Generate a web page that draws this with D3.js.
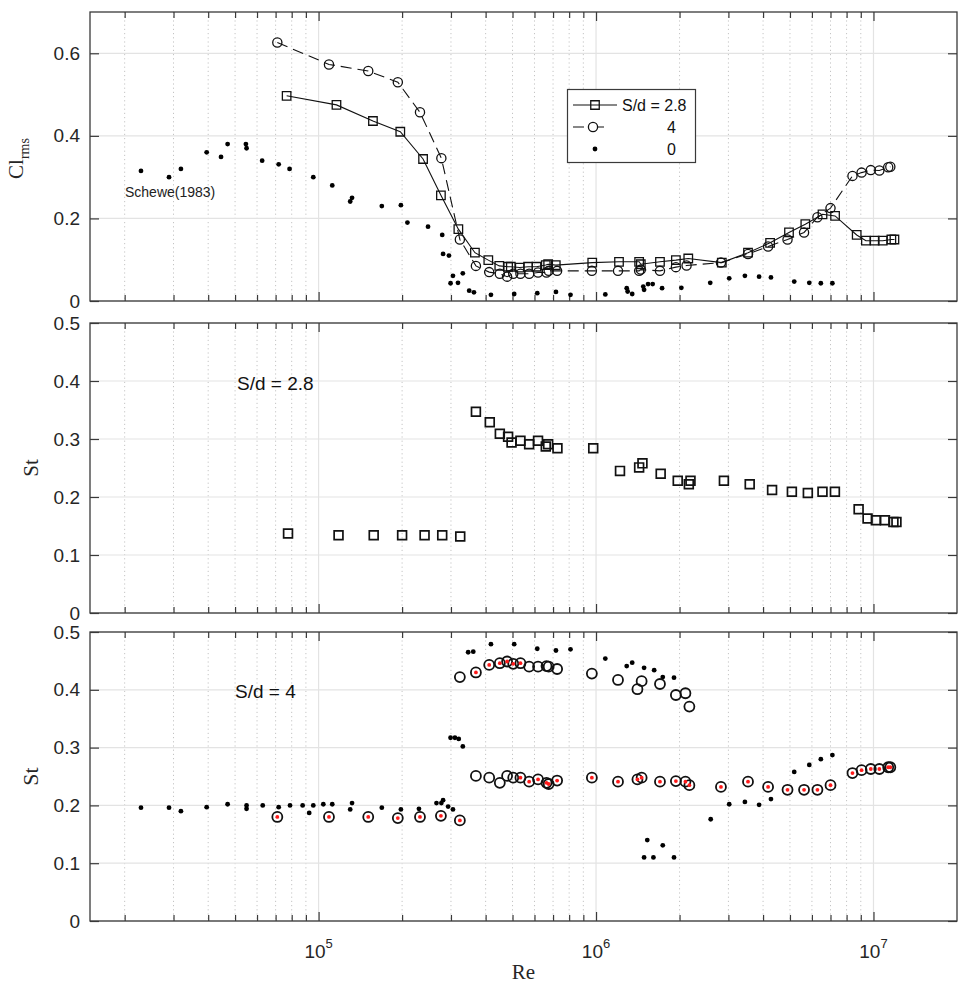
<!DOCTYPE html>
<html>
<head>
<meta charset="utf-8">
<script src="https://cdn.jsdelivr.net/npm/d3@7"></script>
<style>
  html, body { margin: 0; padding: 0; background: #fff; }
  svg { display: block; }
</style>
</head>
<body>
<svg id="chart" width="958" height="987"></svg>
<script>
// ---------------- DATA ----------------
// Top panel: Cl_rms vs Re
const reCl28 = [7.67e4,1.16e5,1.57e5,1.97e5,2.38e5,2.76e5,3.19e5,3.66e5,4.09e5,4.48e5,4.82e5,4.93e5,5.31e5,5.69e5,6.10e5,6.59e5,6.72e5,7.16e5,9.69e5,1.21e6,1.43e6,1.45e6,1.70e6,1.94e6,2.15e6,2.84e6,3.53e6,4.24e6,4.96e6,5.68e6,6.55e6,7.27e6,8.70e6,9.39e6,1.01e7,1.08e7,1.16e7,1.19e7];
const cl28   = [0.497,0.475,0.436,0.410,0.344,0.256,0.174,0.117,0.099,0.085,0.083,0.083,0.081,0.083,0.083,0.087,0.089,0.087,0.093,0.095,0.095,0.089,0.095,0.099,0.103,0.093,0.117,0.141,0.166,0.186,0.210,0.206,0.160,0.146,0.146,0.146,0.149,0.149];

const reCl4 = [7.1e4,1.09e5,1.51e5,1.93e5,2.32e5,2.77e5,3.23e5,3.69e5,4.12e5,4.50e5,4.78e5,5.03e5,5.34e5,5.74e5,6.18e5,6.63e5,6.75e5,7.24e5,9.66e5,1.20e6,1.43e6,1.45e6,1.70e6,1.94e6,2.12e6,2.82e6,3.53e6,4.17e6,4.90e6,5.62e6,6.28e6,7.00e6,8.40e6,9.06e6,9.78e6,1.05e7,1.13e7,1.15e7];
const cl4   = [0.626,0.573,0.557,0.530,0.457,0.346,0.149,0.085,0.070,0.066,0.059,0.066,0.066,0.066,0.069,0.069,0.073,0.073,0.073,0.073,0.073,0.076,0.073,0.082,0.086,0.093,0.114,0.132,0.149,0.166,0.203,0.225,0.303,0.311,0.317,0.316,0.324,0.325];

const reClSch = [2.29e4,2.89e4,3.19e4,3.95e4,4.45e4,4.70e4,5.47e4,5.50e4,6.26e4,7.18e4,7.86e4,9.57e4,1.12e5,1.30e5,1.32e5,1.69e5,1.98e5,2.09e5,2.48e5,2.79e5,2.81e5,2.95e5,3.05e5,2.99e5,3.18e5,3.31e5,3.49e5,3.63e5,4.18e5,5.07e5,6.14e5,7.17e5,8.09e5,1.08e6,1.29e6,1.30e6,1.35e6,1.48e6,1.49e6,1.54e6,1.60e6,1.73e6,2.03e6,2.58e6,3.02e6,3.44e6,3.87e6,4.27e6,5.18e6,5.87e6,6.46e6,7.11e6];
const clSch   = [0.315,0.300,0.320,0.360,0.349,0.380,0.380,0.370,0.340,0.331,0.320,0.300,0.280,0.241,0.250,0.230,0.232,0.190,0.180,0.160,0.114,0.110,0.061,0.043,0.044,0.067,0.025,0.021,0.015,0.017,0.019,0.022,0.015,0.016,0.031,0.023,0.017,0.035,0.027,0.041,0.041,0.031,0.032,0.044,0.055,0.061,0.059,0.057,0.047,0.044,0.043,0.043];

// Middle panel: St vs Re, S/d = 2.8
const reSt28 = [7.76e4,1.18e5,1.58e5,2.00e5,2.41e5,2.79e5,3.24e5,3.69e5,4.14e5,4.50e5,4.82e5,4.96e5,5.34e5,5.74e5,6.18e5,6.59e5,6.72e5,7.26e5,9.77e5,1.22e6,1.43e6,1.47e6,1.71e6,1.97e6,2.16e6,2.19e6,2.89e6,3.58e6,4.31e6,5.08e6,5.80e6,6.55e6,7.26e6,8.84e6,9.52e6,1.02e7,1.10e7,1.18e7,1.21e7];
const st28   = [0.137,0.134,0.134,0.134,0.134,0.134,0.132,0.347,0.329,0.309,0.304,0.294,0.297,0.291,0.297,0.287,0.291,0.284,0.284,0.245,0.251,0.258,0.240,0.228,0.222,0.228,0.228,0.222,0.212,0.209,0.207,0.209,0.209,0.179,0.163,0.160,0.160,0.157,0.157];

// Bottom panel: St vs Re, S/d = 4 (red = inner red dot)
const reSt4 = [7.1e4,1.09e5,1.51e5,1.93e5,2.32e5,2.76e5,3.23e5,
  3.23e5,3.69e5,4.12e5,4.50e5,4.78e5,5.03e5,5.34e5,5.74e5,6.18e5,6.63e5,6.75e5,7.24e5,9.66e5,1.20e6,1.41e6,1.46e6,1.70e6,1.94e6,2.10e6,2.17e6,
  3.69e5,4.12e5,4.50e5,4.78e5,5.03e5,5.34e5,5.74e5,6.18e5,6.63e5,6.75e5,7.24e5,9.66e5,1.20e6,1.41e6,1.46e6,1.70e6,1.94e6,2.10e6,2.17e6,2.82e6,3.53e6,4.17e6,4.90e6,5.62e6,6.28e6,7.00e6,8.40e6,9.06e6,9.78e6,1.05e7,1.13e7,1.15e7];
const st4 = [0.180,0.180,0.180,0.178,0.180,0.182,0.174,
  0.422,0.430,0.443,0.446,0.449,0.445,0.446,0.440,0.440,0.441,0.440,0.436,0.428,0.417,0.401,0.415,0.410,0.391,0.394,0.371,
  0.251,0.248,0.239,0.251,0.248,0.248,0.241,0.245,0.239,0.237,0.243,0.248,0.241,0.245,0.248,0.241,0.242,0.241,0.235,0.232,0.241,0.232,0.227,0.227,0.227,0.235,0.256,0.261,0.263,0.263,0.266,0.266];
const red4 = [1,1,1,1,1,1,1,
  0,1,1,1,1,1,1,0,0,0,0,0,0,0,0,0,0,0,0,0,
  0,0,0,0,0,1,1,1,1,1,1,1,1,1,1,1,1,1,1,1,1,1,1,1,1,1,1,1,1,1,1,1];

const reStSch = [2.29e4,2.89e4,3.19e4,3.95e4,4.70e4,5.50e4,5.50e4,6.29e4,7.18e4,7.89e4,8.76e4,9.25e4,9.57e4,1.04e5,1.12e5,1.30e5,1.32e5,1.69e5,1.98e5,2.30e5,2.66e5,2.77e5,2.81e5,2.93e5,3.05e5,2.99e5,3.10e5,3.20e5,3.31e5,3.46e5,3.61e5,4.18e5,5.07e5,6.14e5,7.17e5,8.09e5,1.08e6,1.29e6,1.35e6,1.49e6,1.62e6,1.74e6,1.91e6,1.53e6,1.49e6,1.61e6,1.74e6,1.91e6,2.59e6,3.02e6,3.44e6,3.87e6,4.27e6,5.18e6,5.87e6,6.46e6,7.11e6];
const stSch   = [0.196,0.196,0.190,0.197,0.202,0.200,0.194,0.200,0.197,0.200,0.200,0.187,0.200,0.202,0.202,0.193,0.204,0.196,0.193,0.194,0.204,0.204,0.209,0.198,0.193,0.317,0.317,0.315,0.302,0.465,0.466,0.479,0.479,0.471,0.468,0.470,0.454,0.441,0.447,0.438,0.434,0.422,0.421,0.140,0.110,0.110,0.131,0.110,0.176,0.202,0.206,0.201,0.211,0.258,0.270,0.280,0.287];

const xMajorTicks = [1e5, 1e6, 1e7];
const xTickExp = ["5", "6", "7"];
const yTicksCl = [0, 0.2, 0.4, 0.6];
const yTicksSt = [0, 0.1, 0.2, 0.3, 0.4, 0.5];
const legendLabels = ["S/d = 2.8", "4", "0"];

// ---------------- LAYOUT ----------------
const svg = d3.select("#chart");
const X0 = 90, X1 = 957;
const x = d3.scaleLog().domain([1.5e4, 2e7]).range([X0, X1]);

const panels = [
  {top: 12,  bot: 301, dom: [0, 0.7], ticks: yTicksCl, fmt: d3.format(".1~f")},
  {top: 323, bot: 613, dom: [0, 0.5], ticks: yTicksSt, fmt: d3.format(".1~f")},
  {top: 632, bot: 921, dom: [0, 0.5], ticks: yTicksSt, fmt: d3.format(".1~f")}
];
panels.forEach(p => p.y = d3.scaleLinear().domain(p.dom).range([p.bot, p.top]));

// minor ticks
const minorTicks = [];
for (let e = 4; e <= 7; e++) for (let m = 2; m <= 9; m++) {
  const v = m * Math.pow(10, e);
  if (v > 1.5e4 && v < 2e7) minorTicks.push(v);
}

const axisColor = "#3a3a3a";

function drawFrame(p, showXLabels) {
  const g = svg.append("g");
  // grid
  g.selectAll(".gm").data(minorTicks).enter().append("line")
    .attr("x1", d => x(d)).attr("x2", d => x(d))
    .attr("y1", p.top).attr("y2", p.bot)
    .attr("stroke", "#c4c4c4").attr("stroke-width", 1).attr("stroke-dasharray", "1.2,3");
  g.selectAll(".gM").data(xMajorTicks).enter().append("line")
    .attr("x1", d => x(d)).attr("x2", d => x(d))
    .attr("y1", p.top).attr("y2", p.bot)
    .attr("stroke", "#e3e3e3").attr("stroke-width", 1.2);
  g.selectAll(".gy").data(p.ticks).enter().append("line")
    .attr("x1", X0).attr("x2", X1)
    .attr("y1", d => p.y(d)).attr("y2", d => p.y(d))
    .attr("stroke", "#e3e3e3").attr("stroke-width", 1.2);

  // ticks (inward, all sides) via d3 axes
  const ax = (axisGen, tr) => {
    const a = g.append("g").attr("transform", tr).call(axisGen);
    a.select(".domain").remove();
    a.selectAll("line").attr("stroke", axisColor).attr("stroke-width", 1.2);
    a.selectAll("text").remove();
    return a;
  };
  ax(d3.axisBottom(x).tickValues(minorTicks).tickSize(-6), `translate(0,${p.bot})`);
  ax(d3.axisBottom(x).tickValues(xMajorTicks).tickSize(-9), `translate(0,${p.bot})`);
  ax(d3.axisTop(x).tickValues(minorTicks).tickSize(-6), `translate(0,${p.top})`);
  ax(d3.axisTop(x).tickValues(xMajorTicks).tickSize(-9), `translate(0,${p.top})`);
  ax(d3.axisLeft(p.y).tickValues(p.ticks).tickSize(-9), `translate(${X0},0)`);
  ax(d3.axisRight(p.y).tickValues(p.ticks).tickSize(-9), `translate(${X1},0)`);

  // y tick labels
  g.selectAll(".yl").data(p.ticks).enter().append("text")
    .attr("x", X0 - 10).attr("y", d => p.y(d) + 6.5)
    .attr("text-anchor", "end")
    .attr("font-family", "Liberation Sans, Arial, sans-serif")
    .attr("font-size", 19).attr("fill", "#262626")
    .text(d => p.fmt(d));

  if (showXLabels) {
    xMajorTicks.forEach((v, i) => {
      const t = g.append("text")
        .attr("x", x(v)).attr("y", p.bot + 37)
        .attr("text-anchor", "middle")
        .attr("font-family", "Liberation Sans, Arial, sans-serif")
        .attr("font-size", 19).attr("fill", "#262626");
      t.append("tspan").text("10");
      t.append("tspan").attr("dy", -10).attr("font-size", 13).text(xTickExp[i]);
    });
  }
  return g;
}

function drawBox(p) {
  svg.append("rect").attr("x", X0).attr("y", p.top)
    .attr("width", X1 - X0).attr("height", p.bot - p.top)
    .attr("fill", "none").attr("stroke", axisColor).attr("stroke-width", 1.3);
}

const squarePath = s => `M${-s/2},${-s/2}h${s}v${s}h${-s}Z`;

// ---------------- TOP PANEL ----------------
{
  const p = panels[0];
  drawFrame(p, false);
  const g = svg.append("g");
  const d28 = reCl28.map((r, i) => [r, cl28[i]]);
  const d4 = reCl4.map((r, i) => [r, cl4[i]]);
  const dS = reClSch.map((r, i) => [r, clSch[i]]);
  const line = d3.line().x(d => x(d[0])).y(d => p.y(d[1]));

  g.selectAll(".sch").data(dS).enter().append("circle")
    .attr("cx", d => x(d[0])).attr("cy", d => p.y(d[1])).attr("r", 2.4).attr("fill", "#000");

  g.append("path").datum(d28).attr("d", line)
    .attr("fill", "none").attr("stroke", "#111").attr("stroke-width", 1.1);
  g.append("path").datum(d4).attr("d", line)
    .attr("fill", "none").attr("stroke", "#111").attr("stroke-width", 1.1)
    .attr("stroke-dasharray", "11,6");

  g.selectAll(".sq").data(d28).enter().append("path")
    .attr("transform", d => `translate(${x(d[0])},${p.y(d[1])})`)
    .attr("d", squarePath(8.5)).attr("fill", "none").attr("stroke", "#111").attr("stroke-width", 1.3);
  g.selectAll(".ci").data(d4).enter().append("circle")
    .attr("cx", d => x(d[0])).attr("cy", d => p.y(d[1])).attr("r", 4.6)
    .attr("fill", "none").attr("stroke", "#111").attr("stroke-width", 1.3);

  g.append("text").attr("x", 125).attr("y", 197)
    .attr("font-family", "Liberation Sans, Arial, sans-serif").attr("font-size", 14).attr("fill", "#222")
    .text("Schewe(1983)");

  // legend
  const lg = svg.append("g");
  lg.append("rect").attr("x", 567.5).attr("y", 89.5).attr("width", 128).attr("height", 73)
    .attr("fill", "#fff").attr("stroke", axisColor).attr("stroke-width", 1.2);
  const rows = [105, 127, 149];
  lg.append("line").attr("x1", 573).attr("x2", 617).attr("y1", rows[0]).attr("y2", rows[0])
    .attr("stroke", "#111").attr("stroke-width", 1.1);
  lg.append("path").attr("transform", `translate(595,${rows[0]})`).attr("d", squarePath(8.5))
    .attr("fill", "none").attr("stroke", "#111").attr("stroke-width", 1.3);
  lg.append("line").attr("x1", 573).attr("x2", 612).attr("y1", rows[1]).attr("y2", rows[1])
    .attr("stroke", "#111").attr("stroke-width", 1.1).attr("stroke-dasharray", "11,9");
  lg.append("circle").attr("cx", 593).attr("cy", rows[1]).attr("r", 4.6)
    .attr("fill", "#fff").attr("stroke", "#111").attr("stroke-width", 1.3);
  lg.append("circle").attr("cx", 595).attr("cy", rows[2]).attr("r", 2.4).attr("fill", "#000");
  const tx = [622, 667, 667];
  legendLabels.forEach((t, i) => {
    lg.append("text").attr("x", tx[i]).attr("y", rows[i] + 6)
      .attr("font-family", "Liberation Sans, Arial, sans-serif").attr("font-size", 16).attr("fill", "#111")
      .text(t);
  });
  drawBox(p);

  // y label
  const yl = svg.append("text")
    .attr("transform", `translate(23,${(p.top + p.bot) / 2 + 2}) rotate(-90)`)
    .attr("text-anchor", "middle")
    .attr("font-family", "Liberation Serif, Times New Roman, serif").attr("font-size", 21).attr("fill", "#262626");
  yl.append("tspan").text("Cl");
  yl.append("tspan").attr("dy", 6).attr("font-size", 14).text("rms");
}

// ---------------- MIDDLE PANEL ----------------
{
  const p = panels[1];
  drawFrame(p, false);
  const g = svg.append("g");
  const d = reSt28.map((r, i) => [r, st28[i]]);
  g.selectAll(".sq").data(d).enter().append("path")
    .attr("transform", d => `translate(${x(d[0])},${p.y(d[1])})`)
    .attr("d", squarePath(8.8)).attr("fill", "none").attr("stroke", "#111").attr("stroke-width", 1.7);
  g.append("text").attr("x", 237).attr("y", 390)
    .attr("font-family", "Liberation Sans, Arial, sans-serif").attr("font-size", 19).attr("fill", "#111")
    .text("S/d = 2.8");
  drawBox(p);
  svg.append("text")
    .attr("transform", `translate(38,${(p.top + p.bot) / 2}) rotate(-90)`)
    .attr("text-anchor", "middle")
    .attr("font-family", "Liberation Serif, Times New Roman, serif").attr("font-size", 21).attr("fill", "#262626")
    .text("St");
}

// ---------------- BOTTOM PANEL ----------------
{
  const p = panels[2];
  drawFrame(p, true);
  const g = svg.append("g");
  const dS = reStSch.map((r, i) => [r, stSch[i]]);
  const d4 = reSt4.map((r, i) => [r, st4[i], red4[i]]);
  g.selectAll(".sch").data(dS).enter().append("circle")
    .attr("cx", d => x(d[0])).attr("cy", d => p.y(d[1])).attr("r", 2.4).attr("fill", "#000");
  g.selectAll(".ci").data(d4).enter().append("circle")
    .attr("cx", d => x(d[0])).attr("cy", d => p.y(d[1])).attr("r", 5)
    .attr("fill", "none").attr("stroke", "#111").attr("stroke-width", 1.8);
  g.selectAll(".rd").data(d4.filter(d => d[2])).enter().append("circle")
    .attr("cx", d => x(d[0])).attr("cy", d => p.y(d[1])).attr("r", 1.9).attr("fill", "#ff1a1a");
  g.append("text").attr("x", 235).attr("y", 698)
    .attr("font-family", "Liberation Sans, Arial, sans-serif").attr("font-size", 19).attr("fill", "#111")
    .text("S/d = 4");
  drawBox(p);
  svg.append("text")
    .attr("transform", `translate(38,${(p.top + p.bot) / 2}) rotate(-90)`)
    .attr("text-anchor", "middle")
    .attr("font-family", "Liberation Serif, Times New Roman, serif").attr("font-size", 22).attr("fill", "#262626")
    .text("St");
  svg.append("text").attr("x", (X0 + X1) / 2).attr("y", 979)
    .attr("text-anchor", "middle")
    .attr("font-family", "Liberation Serif, Times New Roman, serif").attr("font-size", 21).attr("fill", "#262626")
    .text("Re");
}
</script>
</body>
</html>
